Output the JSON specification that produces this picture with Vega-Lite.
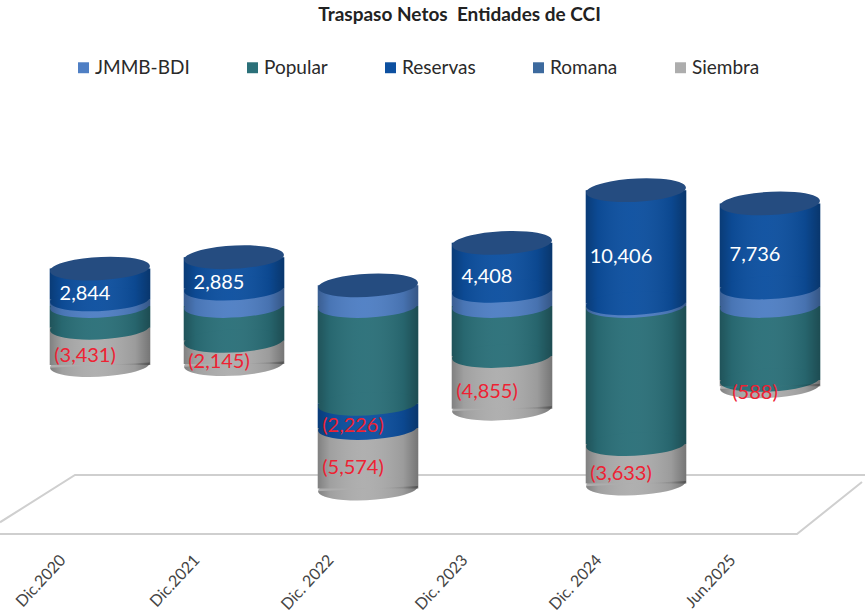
{
"$schema":"https://vega.github.io/schema/vega-lite/v6.json",
"width":865,"height":515,
"autosize":"none",
"padding":{"left":0,"top":30,"right":0,"bottom":69},
"background":"white",
"config":{"view":{"stroke":null},"font":"Lato"},
"title":{"text":"Traspaso Netos \u00a0Entidades de CCI","font":"Lato","fontSize":19,"fontWeight":"bold","color":"#222","anchor":"middle","dx":27,"offset":5},
"resolve":{"scale":{"x":"independent"}},
"layer":[
{
"data":{"values":[
{"seg":"back","i":1,"px":865,"v":-15548},
{"seg":"back","i":2,"px":75,"v":-15548},
{"seg":"back","i":3,"px":0,"v":-19900},
{"seg":"front","i":1,"px":0,"v":-20976},
{"seg":"front","i":2,"px":797,"v":-20976},
{"seg":"front","i":3,"px":862,"v":-16192}
]},
"mark":{"type":"line","color":"#cfcfcf","strokeWidth":2,"clip":false},
"encoding":{
"x":{"field":"px","type":"quantitative","axis":null,"scale":{"domain":[0,865],"nice":false,"zero":false}},
"y":{"field":"v","type":"quantitative","axis":null,"scale":{"domain":[-21988,25392],"nice":false,"zero":false}},
"detail":{"field":"seg"},
"order":{"field":"i","type":"ordinal"}
}
},
{
"data":{"values":[
{"date":"Dic.2020","series":"JMMB-BDI","value":600},
{"date":"Dic.2020","series":"Popular","value":-2000},
{"date":"Dic.2020","series":"Reservas","value":2844},
{"date":"Dic.2020","series":"Siembra","value":-3431},
{"date":"Dic.2021","series":"JMMB-BDI","value":1600},
{"date":"Dic.2021","series":"Popular","value":-3200},
{"date":"Dic.2021","series":"Reservas","value":2885},
{"date":"Dic.2021","series":"Siembra","value":-2145},
{"date":"Dic. 2022","series":"JMMB-BDI","value":1900},
{"date":"Dic. 2022","series":"Popular","value":-9000},
{"date":"Dic. 2022","series":"Reservas","value":-2226},
{"date":"Dic. 2022","series":"Siembra","value":-5574},
{"date":"Dic. 2023","series":"JMMB-BDI","value":1400},
{"date":"Dic. 2023","series":"Popular","value":-4600},
{"date":"Dic. 2023","series":"Reservas","value":4408},
{"date":"Dic. 2023","series":"Siembra","value":-4855},
{"date":"Dic. 2024","series":"JMMB-BDI","value":250},
{"date":"Dic. 2024","series":"Popular","value":-12700},
{"date":"Dic. 2024","series":"Reservas","value":10406},
{"date":"Dic. 2024","series":"Siembra","value":-3633},
{"date":"Jun.2025","series":"JMMB-BDI","value":1700},
{"date":"Jun.2025","series":"Popular","value":-6800},
{"date":"Jun.2025","series":"Reservas","value":7736},
{"date":"Jun.2025","series":"Siembra","value":-588}
]},
"transform":[
{"stack":"value","groupby":["date"],"sort":[{"field":"series","order":"ascending"}],"as":["y0","y1"]},
{"calculate":"min(datum.y0,datum.y1)","as":"bottom"},
{"calculate":"max(datum.y0,datum.y1)","as":"top"},
{"calculate":"(datum.y0+datum.y1)/2","as":"mid"}
],
"encoding":{
"x":{"field":"date","type":"nominal","title":null,
"scale":{"type":"band","domain":["Dic.2020","Dic.2021","Dic. 2022","Dic. 2023","Dic. 2024","Jun.2025"],"range":[33,837],"paddingInner":0.25,"paddingOuter":0.125},
"axis":{"domain":false,"ticks":false,"labelAngle":-47,"labelAlign":"right","labelBaseline":"middle","labelOffset":-37,"labelPadding":12,"labelFont":"Lato","labelFontSize":16,"labelColor":"#444","labelOverlap":false,"labelBound":false,"labelFlush":false}}
},
"layer":[
{
"mark":{"type":"bar"},
"encoding":{
"y":{"field":"y0","type":"quantitative","axis":null,"title":null,"scale":{"domain":[-21988,25392],"nice":false,"zero":false}},
"y2":{"field":"y1"},
"color":{"field":"series","type":"nominal","title":null,
"scale":{"domain":["JMMB-BDI","Popular","Reservas","Romana","Siembra"],"range":["#4f7fc4","#2b7079","#0d50a0","#3d6a9e","#adadad"]},
"legend":{"orient":"none","legendX":74,"legendY":28,"direction":"horizontal","columns":5,"columnPadding":53,"symbolType":"square","symbolSize":120,"symbolStrokeWidth":0,"labelFont":"Lato","labelFontSize":19,"labelColor":"#2a2a2a","labelOffset":2,"title":null}}
}
},
{
"mark":{"type":"point","filled":true,"opacity":1,"size":10000,"shape":"M-0.9986,0.052 A1,0.23 -3 1,1 0.9986,-0.052 A1,0.23 -3 1,1 -0.9986,0.052 Z"},
"encoding":{
"y":{"field":"bottom","type":"quantitative"},
"color":{"field":"series","type":"nominal","legend":null},
"order":{"field":"bottom","type":"quantitative"}
}
},
{
"transform":[{"aggregate":[{"op":"min","field":"bottom","as":"lo"},{"op":"max","field":"top","as":"hi"}],"groupby":["date"]}],
"layer":[
{
"mark":{"type":"bar","fill":{"gradient":"linear","x1":0,"y1":0,"x2":1,"y2":0,"stops":[{"offset":0,"color":"rgba(0,0,0,0.26)"},{"offset":0.12,"color":"rgba(0,0,0,0.08)"},{"offset":0.45,"color":"rgba(255,255,255,0.03)"},{"offset":0.85,"color":"rgba(0,0,0,0.10)"},{"offset":1,"color":"rgba(0,0,0,0.32)"}]}},
"encoding":{"y":{"field":"lo","type":"quantitative"},"y2":{"field":"hi"}}
},
{
"mark":{"type":"point","filled":true,"opacity":1,"size":10000,"shape":"M-0.9986,0.052 A1,0.23 -3 0,0 0.9986,-0.052 Z","fill":{"gradient":"linear","x1":0,"y1":0,"x2":1,"y2":0,"stops":[{"offset":0,"color":"rgba(0,0,0,0.26)"},{"offset":0.12,"color":"rgba(0,0,0,0.08)"},{"offset":0.45,"color":"rgba(255,255,255,0.03)"},{"offset":0.85,"color":"rgba(0,0,0,0.10)"},{"offset":1,"color":"rgba(0,0,0,0.32)"}]}},
"encoding":{"y":{"field":"lo","type":"quantitative"}}
},
{
"mark":{"type":"point","filled":true,"opacity":1,"size":10000,"color":"#254c80","shape":"M-0.9986,0.052 A1,0.23 -3 1,1 0.9986,-0.052 A1,0.23 -3 1,1 -0.9986,0.052 Z"},
"encoding":{"y":{"field":"hi","type":"quantitative"}}
}
]
},
{
"transform":[{"filter":"datum.series==='Reservas'||datum.series==='Siembra'"}],
"mark":{"type":"text","font":"Lato","fontSize":20,"dx":-15,"dy":10,"baseline":"middle"},
"encoding":{
"y":{"field":"mid","type":"quantitative"},
"text":{"field":"value","type":"quantitative","format":"(,.0f"},
"color":{"condition":{"test":"datum.value<0","value":"#ee2233"},"value":"#ffffff"}
}
}
]
}
]
}
